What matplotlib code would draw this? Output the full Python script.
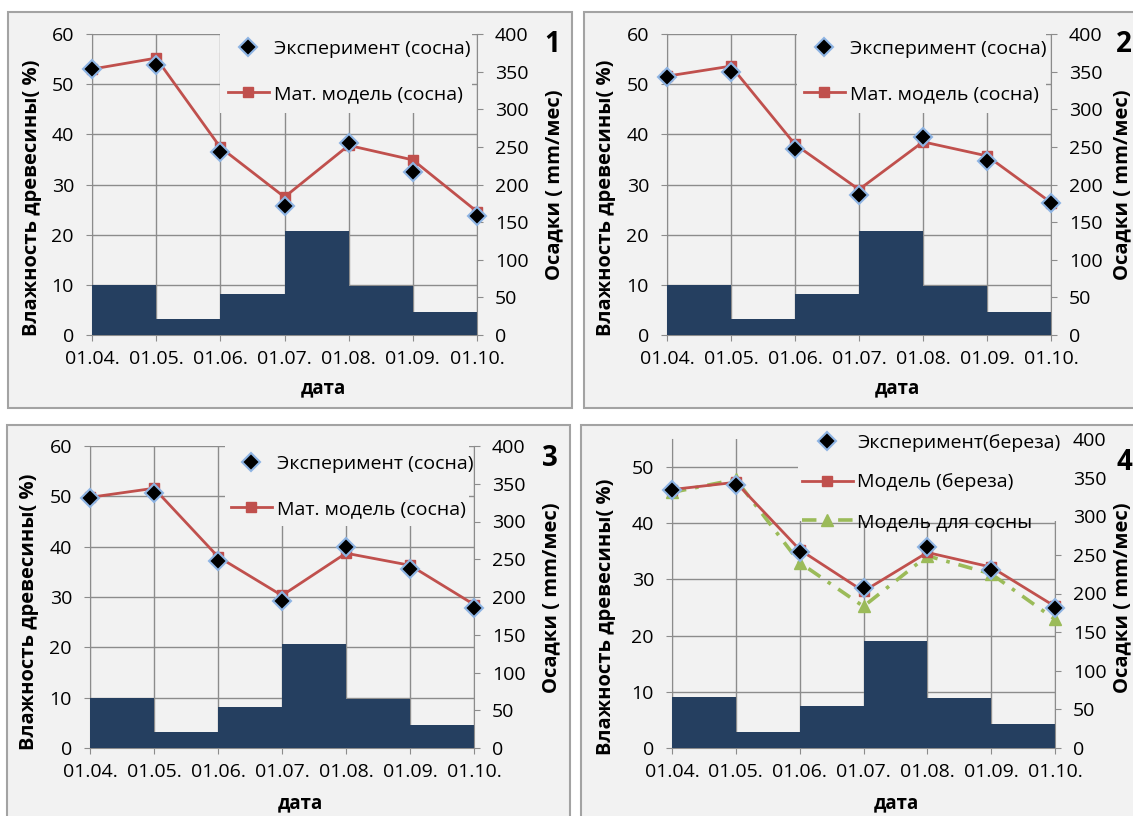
import matplotlib
matplotlib.use("Agg")
import matplotlib.pyplot as plt
from matplotlib.patches import Rectangle

plt.rcParams['font.family'] = ['Open Sans', 'DejaVu Sans']

# data
months = ["01.04.", "01.05.", "01.06.", "01.07.", "01.08.", "01.09.", "01.10."]
precip = [66, 21, 54, 138, 65, 31]  # осадки, мм/мес (апр..сен)

exp1 = [53.0, 53.9, 36.4, 25.7, 38.2, 32.5, 23.7]
mod1 = [53.0, 55.2, 37.4, 27.5, 37.8, 34.9, 24.6]
exp2 = [51.5, 52.4, 37.1, 27.9, 39.5, 34.6, 26.3]
mod2 = [51.6, 53.6, 38.0, 29.0, 38.5, 35.7, 26.4]
exp3 = [49.7, 50.6, 37.2, 29.3, 40.0, 35.6, 27.9]
mod3 = [49.8, 51.6, 38.0, 30.3, 38.7, 36.3, 28.5]
exp4 = [46.0, 46.8, 34.8, 28.5, 35.8, 31.6, 25.0]
mod4 = [46.0, 47.3, 35.3, 27.9, 34.8, 32.2, 25.2]
pine4 = [45.5, 47.8, 33.0, 25.2, 34.2, 31.0, 22.9]

W, H = 1133, 816
PANEL = "#f2f2f2"
EDGE = "#a3a3a3"
GRID = "#8c8c8c"
BAR = "#253f60"
RED = "#c0504d"
GREEN = "#9bbb59"
FS = 14

fig = plt.figure(figsize=(W / 100, H / 100), dpi=100)


def fx(x):
    return x / W


def fy(y):
    return 1 - y / H


def panel(frame, box, hum_top, lines, leg_box, leg_xy, spacing, hlen, txt):
    # panel background with border
    x0, y0, x1, y1 = frame
    fig.add_artist(Rectangle((fx(x0), fy(y1)), fx(x1) - fx(x0), fy(y0) - fy(y1),
                             transform=fig.transFigure, facecolor=PANEL,
                             edgecolor=EDGE, lw=1.5, zorder=0))
    l, t, r, b = box
    ax = fig.add_axes([fx(l), fy(b), fx(r) - fx(l), fy(t) - fy(b)])
    ax.patch.set_visible(False)
    ax.set_xlim(0, 6)
    ax.set_ylim(0, hum_top)
    ax.set_yticks([v for v in range(0, 61, 10) if v <= hum_top])
    ax.set_xticks(range(len(months)))
    ax.set_xticklabels(months)
    ax.grid(True, color=GRID, lw=1)
    for s in ["top", "right"]:
        ax.spines[s].set_visible(False)
    for s in ["left", "bottom"]:
        ax.spines[s].set_color(GRID)
    ax.tick_params(axis="y", direction="out", length=4, color=GRID, labelsize=FS, pad=9)
    ax.tick_params(axis="x", direction="out", length=4, color=GRID, labelsize=FS, pad=7)

    ax2 = ax.twinx()
    ax2.set_ylim(0, 400)
    ax2.set_yticks(range(0, 401, 50))
    ax2.bar(range(len(precip)), precip, width=1, align="edge", color=BAR)
    for s in ["top", "left", "bottom"]:
        ax2.spines[s].set_visible(False)
    ax2.spines["right"].set_color(GRID)
    ax2.tick_params(axis="y", direction="out", length=4, color=GRID, labelsize=FS, pad=9)

    ax3 = ax.twinx()
    ax3.set_ylim(0, hum_top)
    ax3.axis("off")
    handles = []
    for kind, vals, label in lines:
        if kind == "exp":
            h, = ax3.plot(range(len(vals)), vals, ls="none", marker="D", ms=9.5,
                          mfc="black", mec="#8eb4e3", mew=1.5, clip_on=False,
                          zorder=4, label=label)
        elif kind == "mod":
            h, = ax3.plot(range(len(vals)), vals, color=RED, lw=2, marker="s", ms=7,
                          clip_on=False, zorder=3, label=label)
        else:
            h, = ax3.plot(range(len(vals)), vals, color=GREEN, lw=2.6,
                          ls=(0, (4, 2.5, 1, 2.5)), marker="^", ms=9,
                          clip_on=False, zorder=2, label=label)
        handles.append((kind, h))
    order = {"exp": 0, "mod": 1, "pine": 2}
    handles = [h for k, h in sorted(handles, key=lambda kh: order[kh[0]])]

    # legend background hides the grid behind it
    bx0, by0, bx1, by1 = leg_box
    ax3.add_artist(Rectangle((fx(bx0), fy(by1)), fx(bx1) - fx(bx0), fy(by0) - fy(by1),
                             transform=fig.transFigure, facecolor=PANEL,
                             edgecolor="none", zorder=5, clip_on=False))
    leg = ax3.legend(handles=handles, loc="upper left",
                     bbox_to_anchor=(fx(leg_xy[0]), fy(leg_xy[1])),
                     bbox_transform=fig.transFigure, frameon=False, fontsize=FS,
                     borderpad=0, borderaxespad=0, handlelength=hlen,
                     handletextpad=0.25, labelspacing=spacing)
    leg.set_zorder(6)

    yl, y2l, xl, num = txt
    fig.text(fx(yl[0]), fy(yl[1]), "Влажность древесины( %)", rotation=90,
             ha="center", va="center", fontsize=14.5, fontweight="bold")
    fig.text(fx(y2l[0]), fy(y2l[1]), "Осадки ( mm/мес)", rotation=90,
             ha="center", va="center", fontsize=14.5, fontweight="bold")
    fig.text(fx(xl[0]), fy(xl[1]), "дата", ha="center", va="center",
             fontsize=13.5, fontweight="bold")
    fig.text(fx(num[0]), fy(num[1]), num[2], ha="center", va="center",
             fontsize=20, fontweight="bold")


sosna = ("Эксперимент (сосна)", "Мат. модель (сосна)")

panel((8, 12, 572, 408), (92, 34, 477, 335), 60,
      [("mod", mod1, sosna[1]), ("exp", exp1, sosna[0])],
      (220, 28, 472, 113), (228, 40), 1.4, 2.1,
      ((32, 198), (554, 185), (323, 388), (552, 45, "1")))

panel((584, 12, 1140, 408), (667, 34, 1051, 335), 60,
      [("mod", mod2, sosna[1]), ("exp", exp2, sosna[0])],
      (797, 28, 1046, 113), (804, 40), 1.4, 2.1,
      ((606, 198), (1122, 185), (897, 388), (1124, 45, "2")))

panel((7, 425, 570, 830), (90, 446, 474, 748), 60,
      [("mod", mod3, sosna[1]), ("exp", exp3, sosna[0])],
      (225, 440, 469, 526), (231, 455), 1.4, 2.1,
      ((29, 612), (551, 598), (300, 803), (550, 459, "3")))

panel((581, 425, 1140, 830), (672, 439, 1055, 748), 55,
      [("pine", pine4, "Модель для сосны"), ("mod", mod4, "Модель (береза)"),
       ("exp", exp4, "Эксперимент(береза)")],
      (798, 428, 1062, 521), (802, 434), 1.1, 2.6,
      ((606, 617), (1122, 598), (896, 803), (1124, 462, "4")))

fig.savefig("out.png", dpi=100)
